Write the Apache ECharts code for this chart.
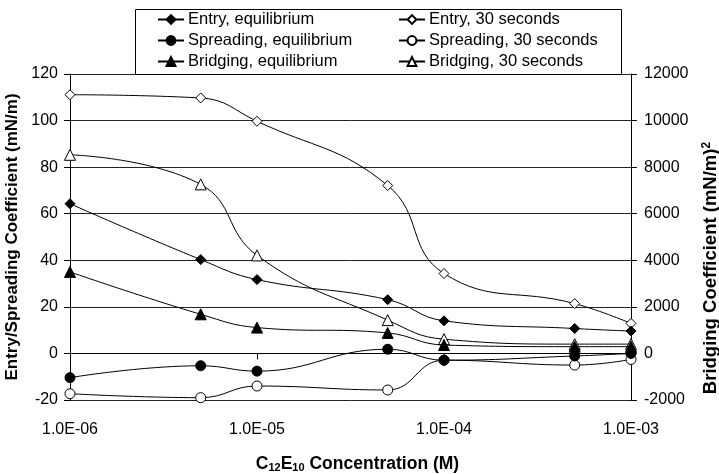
<!DOCTYPE html>
<html>
<head>
<meta charset="utf-8">
<script src="https://cdn.jsdelivr.net/npm/echarts@6/dist/echarts.min.js"></script>
<style>
html,body{margin:0;padding:0;background:#fff;}
#chart{width:719px;height:474px;}
</style>
</head>
<body>
<div id="chart"></div>
<script>
// ---- data ----
const concentrations = [1e-6, 5e-6, 1e-5, 5e-5, 1e-4, 5e-4, 1e-3];
const xTickLabels = ['1.0E-06', '1.0E-05', '1.0E-04', '1.0E-03'];
const entryEq = [64.3, 40.3, 31.7, 23.1, 14.0, 10.7, 9.6];
const entry30 = [111.1, 109.7, 99.7, 72.1, 34.3, 21.4, 12.9];
const spreadEq = [-10.4, -5.3, -7.6, 1.8, -2.9, -1.1, 0.0];
const spread30 = [-17.3, -19.0, -14.0, -15.7, -2.9, -5.0, -2.6];
const bridgeEq = [3500, 1680, 1110, 880, 360, 290, 290];
const bridge30 = [8530, 7260, 4210, 1430, 610, 400, 400];
const seriesNames = [
  'Entry, equilibrium', 'Entry, 30 seconds',
  'Spreading, equilibrium', 'Spreading, 30 seconds',
  'Bridging, equilibrium', 'Bridging, 30 seconds'
];

const FONT = 'Liberation Sans, Arial, sans-serif';
const chart = echarts.init(document.getElementById('chart'), null, {renderer: 'canvas'});

function pairs(vals) { return concentrations.map((c, i) => [c, vals[i]]); }
function mk(name, vals, symbol, filled, axis) {
  return {
    name: name, type: 'line', yAxisIndex: axis, data: pairs(vals),
    smooth: 0.45, symbol: symbol, symbolSize: symbol === 'triangle' ? 11 : 10,
    showAllSymbol: true, z: filled ? 3 : 2,
    lineStyle: {color: '#000', width: 1},
    itemStyle: {color: filled ? '#000' : '#fff', borderColor: '#000', borderWidth: 1},
    emphasis: {disabled: true}, animation: false
  };
}

const option = {
  animation: false,
  backgroundColor: '#fff',
  textStyle: {fontFamily: FONT},
  grid: {left: 70, right: 88, top: 74, bottom: 74, containLabel: false, outerBoundsMode: 'none'},
  graphic: [{
    type: 'rect', z: 4,
    shape: {x: 135.5, y: 9.5, width: 486, height: 65},
    style: {fill: '#fff', stroke: '#000', lineWidth: 1}
  }],
  legend: [
    {
      data: [seriesNames[0], seriesNames[2], seriesNames[4]],
      orient: 'vertical', left: 157, top: 11, padding: 0, itemGap: 4,
      itemWidth: 26, itemHeight: 11, z: 6,
      textStyle: {fontFamily: FONT, fontSize: 16.5, color: '#000', padding: [0, 0, 0, -1]}
    },
    {
      data: [seriesNames[1], seriesNames[3], seriesNames[5]],
      orient: 'vertical', left: 398, top: 11, padding: 0, itemGap: 4,
      itemWidth: 26, itemHeight: 11, z: 6,
      textStyle: {fontFamily: FONT, fontSize: 16.5, color: '#000', padding: [0, 0, 0, -1]}
    }
  ],
  xAxis: {
    type: 'log', logBase: 10, min: 1e-6, max: 1e-3,
    axisLine: {lineStyle: {color: '#000', width: 1}},
    axisTick: {show: true, length: 6, lineStyle: {color: '#000'}},
    splitLine: {show: false},
    minorTick: {show: false},
    axisLabel: {
      color: '#000', fontFamily: FONT, fontSize: 16, margin: 22,
      formatter: function (v, i) { return xTickLabels[i]; }
    },
    name: '{c|C}{s|12}{b|E}{s|10}{b| Concentration (M)}',
    nameLocation: 'middle', nameGap: 55,
    nameTextStyle: {
      rich: {
        c: {fontFamily: FONT, fontWeight: 'bold', fontSize: 17.5, color: '#000', padding: [0, 0, 0, 14]},
        b: {fontFamily: FONT, fontWeight: 'bold', fontSize: 17.5, color: '#000'},
        s: {fontFamily: FONT, fontWeight: 'bold', fontSize: 11, color: '#000', verticalAlign: 'bottom'}
      }
    }
  },
  yAxis: [
    {
      type: 'value', min: -20, max: 120, interval: 20, position: 'left',
      axisLine: {show: true, lineStyle: {color: '#000', width: 1}},
      axisTick: {show: true, length: 6, lineStyle: {color: '#000'}},
      splitLine: {show: true, lineStyle: {color: '#222', width: 1}},
      axisLabel: {color: '#000', fontFamily: FONT, fontSize: 16, margin: 12,
        formatter: function (v) { return String(v); }},
      name: 'Entry/Spreading Coefficient (mN/m)',
      nameLocation: 'middle', nameGap: 44, nameRotate: 90,
      nameTextStyle: {fontFamily: FONT, fontWeight: 'bold', fontSize: 17, color: '#000'}
    },
    {
      type: 'value', min: -2000, max: 12000, interval: 2000, position: 'right',
      axisLine: {show: true, lineStyle: {color: '#000', width: 1}},
      axisTick: {show: true, length: 6, lineStyle: {color: '#000'}},
      splitLine: {show: false},
      axisLabel: {color: '#000', fontFamily: FONT, fontSize: 16, margin: 13,
        formatter: function (v) { return String(v); }},
      name: '{b|Bridging Coefficient (mN/m)}{p|2}',
      nameLocation: 'middle', nameGap: 70, nameRotate: 90,
      nameTextStyle: {
        rich: {
          b: {fontFamily: FONT, fontWeight: 'bold', fontSize: 18.5, color: '#000'},
          p: {fontFamily: FONT, fontWeight: 'bold', fontSize: 12, color: '#000', verticalAlign: 'top', padding: [0, 62, 0, 0]}
        }
      }
    }
  ],
  series: [
    mk(seriesNames[0], entryEq, 'diamond', true, 0),
    mk(seriesNames[1], entry30, 'diamond', false, 0),
    mk(seriesNames[2], spreadEq, 'circle', true, 0),
    mk(seriesNames[3], spread30, 'circle', false, 0),
    mk(seriesNames[4], bridgeEq, 'triangle', true, 1),
    mk(seriesNames[5], bridge30, 'triangle', false, 1)
  ]
};
chart.setOption(option);
</script>
</body>
</html>
